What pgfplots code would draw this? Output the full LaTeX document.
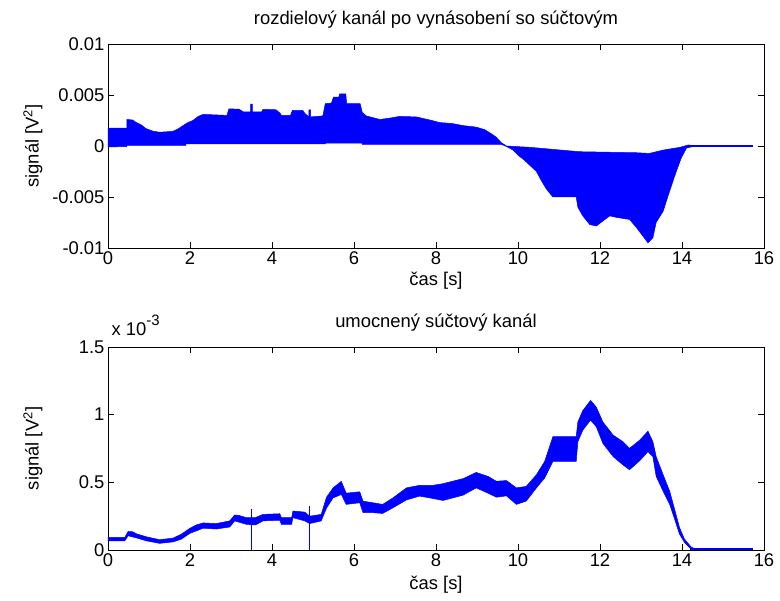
\documentclass[border=0pt]{standalone}
\usepackage{pgfplots}
\pgfplotsset{compat=1.18}
\usepackage{fontspec}
\setmainfont{Liberation Sans}
\definecolor{mblue}{RGB}{0,0,255}
\newcommand{\mfont}{\fontsize{18.4}{21}\selectfont}
\pgfplotsset{
  mstyle/.style={
    scale only axis, width=656pt,
    xmin=0, xmax=16, xtick={0,2,...,16},
    xticklabels={0,2,4,6,8,10,12,14,16},
    tick align=inside, major tick length=6pt,
    axis line style={line width=0.9pt},
    every tick/.style={line width=0.9pt, black},
    tick label style={font=\mfont},
    every axis title/.style={at={(axis description cs:0.5,1)}, anchor=center, yshift=24pt, font=\mfont},
    every axis x label/.style={at={(axis description cs:0.5,0)}, anchor=center, font=\mfont},
    every axis y label/.style={at={(axis description cs:0,0.5)}, rotate=90, anchor=center, yshift=75pt, font=\mfont},
  }
}
\begin{document}
\begin{tikzpicture}
\useasboundingbox (-108pt,-51pt) rectangle (672pt,550pt);
% top axis
\begin{axis}[mstyle, at={(0,302pt)}, anchor=south west, height=204pt,
  ymin=-10, ymax=10, ytick={-10,-5,0,5,10},
  yticklabels={-0.01,-0.005,0,0.005,0.01},
  title={rozdielový kanál po vynásobení so súčtovým},
  xlabel={čas [s]}, xlabel style={yshift=-33pt},
  ylabel={signál [V\textsuperscript{2}]}]
\addplot[mblue, fill=mblue, line width=0.5pt] coordinates {
(0,1.75) (0.46,1.75) (0.46,2.6) (0.6,2.55) (0.69,2.3) (0.8,2.1) (0.93,1.7) (1.1,1.45) (1.26,1.35) (1.45,1.4) (1.59,1.45) (1.7,1.65) (1.83,2.0) (1.95,2.3) (2.07,2.5) (2.2,2.9) (2.32,3.1) (2.9,3.0) (2.95,3.65) (3.2,3.6) (3.3,3.35) (3.48,3.35) (3.48,4.1) (3.52,4.1) (3.52,3.35) (3.75,3.35) (3.78,3.6) (4.1,3.55) (4.2,3.2) (4.23,3.0) (4.45,3.0) (4.5,3.5) (4.75,3.5) (4.8,3.2) (4.9,2.85) (4.9,3.55) (4.94,3.55) (4.94,2.85) (5.24,2.95) (5.3,4.15) (5.45,4.2) (5.5,4.8) (5.63,4.8) (5.65,5.1) (5.8,5.1) (5.82,4.15) (6.15,4.15) (6.2,3.3) (6.3,2.95) (6.63,2.6) (6.9,2.75) (7.11,2.9) (7.52,2.85) (7.85,2.55) (8.09,2.3) (8.4,2.2) (8.66,2.0) (8.98,1.85) (9.19,1.6) (9.35,1.2) (9.47,0.86) (9.59,0.33) (9.72,0.0)
(10.29,-0.13) (10.85,-0.33) (11.5,-0.56) (12.89,-0.66) (13.2,-0.73) (13.54,-0.4) (13.95,-0.13) (14.15,0.1) (14.27,0.05)
(14.27,-0.05) (14.11,-0.2) (13.98,-1.2) (13.86,-2.5) (13.7,-4.4) (13.54,-6.4) (13.37,-7.5) (13.29,-9.0) (13.17,-9.5) (13.05,-8.85) (12.89,-8.0) (12.72,-7.2) (12.4,-7.0) (12.24,-6.85) (12.07,-7.35) (11.91,-7.85) (11.75,-7.7) (11.58,-6.85) (11.46,-6.0) (11.42,-5.0) (10.85,-5.0) (10.69,-4.2) (10.57,-3.4) (10.45,-2.5) (10.29,-1.9) (10.16,-1.4) (10.0,-0.9) (9.88,-0.4) (9.72,-0.05)
(9.6,0.15) (6.2,0.15) (6.2,0.28) (5.3,0.28) (5.3,0.2) (1.9,0.2) (1.9,0.05) (0.46,0.05) (0.46,-0.05) (0,-0.1)
};
\addplot[mblue, line width=2pt] coordinates {(14.2,0) (15.73,0)};
\end{axis}
% bottom axis
\begin{axis}[mstyle, at={(0,0)}, anchor=south west, height=203pt,
  ymin=0, ymax=1.5, ytick={0,0.5,1,1.5},
  yticklabels={0,0.5,1,1.5},
  title={umocnený súčtový kanál},
  xlabel={čas [s]}, xlabel style={yshift=-35pt},
  ylabel={signál [V\textsuperscript{2}]},
  after end axis/.code={\node[anchor=base west, font=\mfont] at ([yshift=11pt]rel axis cs:0,1) {x 10\raisebox{0.55em}{\fontsize{15}{17}\selectfont -3}};}]
\addplot[mblue, fill=mblue, line width=0.5pt] coordinates {
(0,0.093) (0.41,0.093) (0.49,0.137) (0.6,0.135) (0.69,0.12) (0.93,0.098) (1.26,0.076) (1.59,0.088) (1.79,0.117) (1.99,0.159) (2.15,0.185) (2.32,0.2) (2.64,0.195) (2.97,0.215) (3.09,0.259) (3.2,0.255) (3.37,0.239) (3.6,0.24) (3.78,0.263) (4.19,0.268) (4.23,0.239) (4.48,0.239) (4.51,0.288) (4.8,0.28) (4.92,0.25) (5.2,0.263) (5.33,0.39) (5.49,0.459) (5.69,0.507) (5.81,0.42) (6.14,0.43) (6.22,0.361) (6.46,0.349) (6.7,0.337) (6.95,0.385) (7.28,0.459) (7.6,0.478) (7.93,0.478) (8.17,0.49) (8.66,0.527) (8.98,0.573) (9.27,0.544) (9.47,0.508) (9.72,0.513) (9.96,0.459) (10.2,0.47) (10.45,0.556) (10.65,0.654) (10.85,0.837) (11.42,0.837) (11.46,0.946) (11.58,1.03) (11.77,1.105) (11.91,1.056) (12.07,0.946) (12.32,0.849) (12.56,0.8) (12.72,0.751) (12.97,0.812) (13.17,0.878) (13.29,0.8) (13.37,0.69) (13.54,0.556) (13.7,0.434) (13.82,0.3) (13.94,0.166) (14.06,0.08) (14.23,0.02) (14.3,0.012)
(14.3,0.0) (14.23,0.003) (14.06,0.056) (13.94,0.117) (13.82,0.227) (13.7,0.337) (13.54,0.434) (13.37,0.544) (13.29,0.69) (13.17,0.727) (12.97,0.66) (12.72,0.593) (12.56,0.629) (12.32,0.69) (12.07,0.788) (11.91,0.91) (11.77,0.96) (11.58,0.885) (11.46,0.8) (11.42,0.654) (10.85,0.654) (10.65,0.532) (10.45,0.459) (10.2,0.361) (9.96,0.337) (9.72,0.4) (9.47,0.39) (9.27,0.42) (8.98,0.459) (8.66,0.405) (8.17,0.366) (7.85,0.385) (7.6,0.398) (7.28,0.37) (6.95,0.312) (6.7,0.27) (6.46,0.276) (6.22,0.276) (6.14,0.349) (5.81,0.337) (5.69,0.41) (5.49,0.385) (5.33,0.31) (5.2,0.215) (4.92,0.195) (4.8,0.215) (4.51,0.239) (4.48,0.19) (4.23,0.19) (4.19,0.22) (3.78,0.215) (3.6,0.185) (3.37,0.19) (3.09,0.215) (2.97,0.17) (2.64,0.155) (2.32,0.161) (1.99,0.122) (1.79,0.08) (1.59,0.06) (1.26,0.049) (0.93,0.068) (0.69,0.09) (0.49,0.105) (0.41,0.068) (0,0.068)
};
\addplot[mblue, line width=1pt] coordinates {(3.5,0) (3.5,0.3)};
\addplot[mblue, line width=1pt] coordinates {(4.92,0) (4.92,0.324)};
\addplot[mblue, line width=2.5pt] coordinates {(14.2,0.006) (15.73,0.006)};
\end{axis}
\end{tikzpicture}
\end{document}
